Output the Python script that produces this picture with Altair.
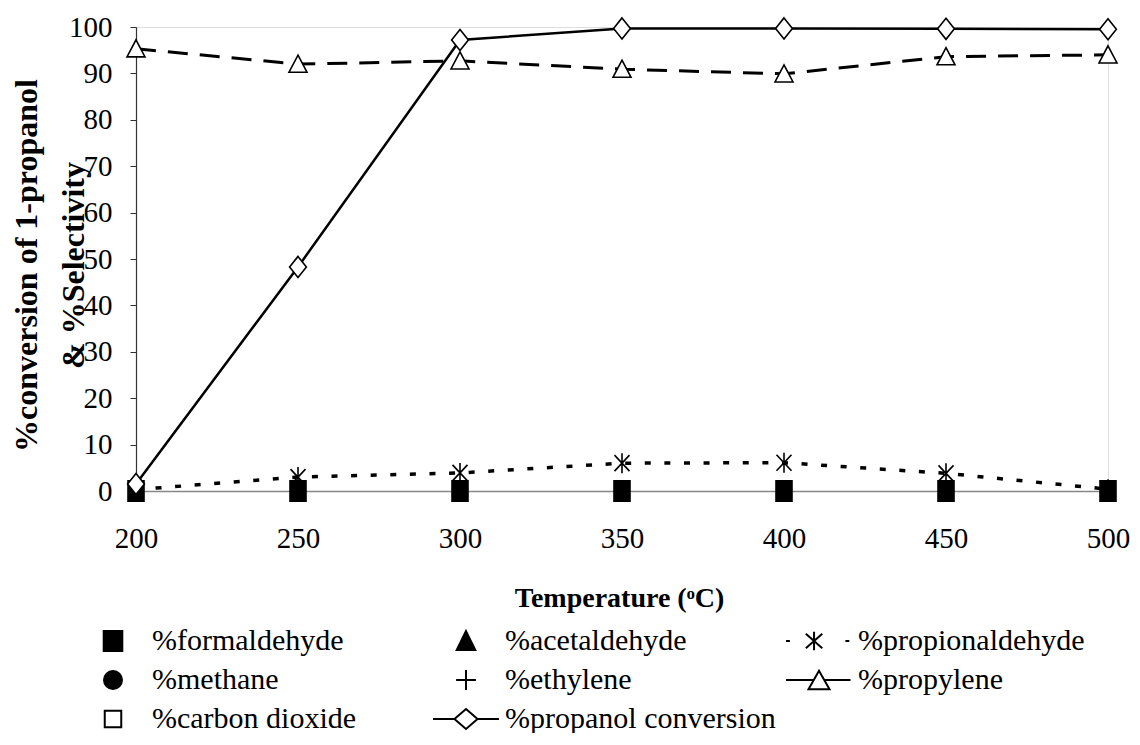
import altair as alt
import pandas as pd

# ---- data ----
temperature = [200, 250, 300, 350, 400, 450, 500]
formaldehyde = [0, 0, 0, 0, 0, 0, 0]
acetaldehyde = [0, 0, 0, 0, 0, 0, 0]
propionaldehyde = [0.3, 3.0, 3.9, 6.0, 6.1, 3.8, 0.4]
methane = [0, 0, 0, 0, 0, 0, 0]
ethylene = [0, 0, 0, 0, 0, 0, 0]
propylene = [95.3, 92.0, 92.7, 90.9, 89.9, 93.6, 94.0]
carbon_dioxide = [0, 0, 0, 0, 0, 0, 0]
propanol_conversion = [1.5, 48.3, 97.2, 99.7, 99.7, 99.6, 99.5]

series_names = [
    "%formaldehyde", "%acetaldehyde", "%propionaldehyde",
    "%methane", "%ethylene", "%propylene",
    "%carbon dioxide", "%propanol conversion",
]
series_values = [
    formaldehyde, acetaldehyde, propionaldehyde,
    methane, ethylene, propylene,
    carbon_dioxide, propanol_conversion,
]

rows = []
for name, vals in zip(series_names, series_values):
    for t, v in zip(temperature, vals):
        rows.append({"series": name, "T": t, "v": v})
df = pd.DataFrame(rows)

FONT = "Liberation Serif"

x_enc = alt.X(
    "T:Q",
    scale=alt.Scale(domain=[200, 500], nice=False),
    axis=alt.Axis(
        values=temperature, ticks=False, tickSize=0, grid=False, labelFlush=False,
        labelFont=FONT, labelFontSize=29, labelColor="black", labelPadding=33,
        domainColor="#888888", domainWidth=1.5,
        title="Temperature (ᵒC)", titleFont=FONT, titleFontSize=28,
        titleFontWeight="bold", titleColor="black",
        titleX=483, titleY=107, titleBaseline="middle", titleAlign="center",
    ),
)
y_enc = alt.Y(
    "v:Q",
    scale=alt.Scale(domain=[0, 100], nice=False),
    axis=alt.Axis(
        values=list(range(0, 101, 10)), tickSize=6, tickColor="#333333",
        grid=False, labelFont=FONT, labelFontSize=29, labelColor="black",
        labelPadding=18, domainColor="#333333", domainWidth=1.2,
        title=["%conversion of 1-propanol", "& %Selectivity"],
        titleFont=FONT, titleFontSize=32, titleFontWeight="bold",
        titleColor="black", titleLineHeight=47,
        titleX=-110, titleY=238, titleAngle=-90, titleBaseline="middle",
        titleAlign="center",
    ),
)

base = alt.Chart(df)

def sel(name):
    return base.transform_filter(alt.datum.series == name)

RECT = "M-0.8,-1H0.8V1H-0.8Z"
DIAMOND = "M0,-1L0.8,0L0,1L-0.8,0Z"
TRI = "M0,-1L1,0.9H-1Z"
STAR = "M0,-1V1M-0.75,-0.8L0.75,0.8M-0.75,0.8L0.75,-0.8"

# zero-valued species (they lie under the formaldehyde squares)
hidden = alt.layer(
    sel("%acetaldehyde").mark_point(shape="triangle-up", filled=True, color="black", size=120, opacity=1).encode(x=x_enc, y=y_enc),
    sel("%methane").mark_point(shape="circle", filled=True, color="black", size=120, opacity=1).encode(x=x_enc, y=y_enc),
    sel("%ethylene").mark_point(shape="cross", filled=False, color="black", size=120, opacity=1).encode(x=x_enc, y=y_enc),
    sel("%carbon dioxide").mark_point(shape="square", filled=False, color="black", size=120, opacity=1).encode(x=x_enc, y=y_enc),
)

formal = sel("%formaldehyde").mark_point(
    shape=RECT, filled=True, color="black", size=484, opacity=1
).encode(x=x_enc, y=y_enc)

propional_line = sel("%propionaldehyde").mark_line(
    color="black", strokeWidth=3.5, strokeDash=[6, 13.6]
).encode(x=x_enc, y=y_enc)
propional_pts = sel("%propionaldehyde").mark_point(
    shape=STAR, filled=False, color="black", size=400, strokeWidth=1.6, opacity=1
).encode(x=x_enc, y=y_enc)

propylene_line = sel("%propylene").mark_line(
    color="black", strokeWidth=3, strokeDash=[20, 12]
).encode(x=x_enc, y=y_enc)
propylene_pts = sel("%propylene").mark_point(
    shape=TRI, filled=True, fill="white", stroke="black", size=324, strokeWidth=1.6, opacity=1
).encode(x=x_enc, y=y_enc)

propanol_line = sel("%propanol conversion").mark_line(
    color="black", strokeWidth=2.5
).encode(x=x_enc, y=y_enc)
propanol_pts = sel("%propanol conversion").mark_point(
    shape=DIAMOND, filled=True, fill="white", stroke="black", size=441, strokeWidth=1.6, opacity=1
).encode(x=x_enc, y=y_enc)

# legend symbols: line + marker combos as SVG paths (1 unit = 15 px)
legend_paths = [
    "M0.58,-0.66H1.82V0.66H0.58Z",
    "M1.2,-0.66L1.82,0.6H0.58Z",
    "M-1,0H-0.74M2.96,0H3.22M0.87,-0.62V0.62M0.32,-0.48L1.42,0.48M0.32,0.48L1.42,-0.48",
    "M1.8,0A0.6,0.6,0,1,1,0.6,0A0.6,0.6,0,1,1,1.8,0Z",
    "M0.54,0H1.86M1.2,-0.66V0.66",
    "M-1,0H0.85M1.55,0H3.3M1.2,-0.62L1.9,0.62H0.5Z",
    "M0.65,-0.55H1.75V0.55H0.65Z",
    "M-1,0H0.43M1.97,0H3.4M1.2,-0.66L1.97,0L1.2,0.66L0.43,0Z",
]
legend_fill = ["black", "black", "white", "black", "white", "white", "white", "white"]
legend_stroke = ["black"] * 8

leg = alt.Legend(
    title=None, orient="none", legendX=-57, legendY=598, columns=3,
    direction="horizontal", gridAlign="all",
    symbolSize=900, symbolStrokeWidth=2, symbolStrokeColor="black",
    symbolOpacity=1, labelFont=FONT, labelFontSize=30, labelColor="black",
    labelOffset=41, rowPadding=8, columnPadding=6, labelLimit=400,
)

legend_layer = base.transform_filter(alt.datum.T == 200).mark_point(
    filled=True, opacity=0, strokeWidth=2
).encode(
    shape=alt.Shape("series:N", sort=series_names,
                    scale=alt.Scale(domain=series_names, range=legend_paths), legend=leg),
    fill=alt.Fill("series:N", sort=series_names,
                  scale=alt.Scale(domain=series_names, range=legend_fill), legend=leg),
    stroke=alt.Stroke("series:N", sort=series_names,
                      scale=alt.Scale(domain=series_names, range=legend_stroke), legend=leg),
)

chart = alt.layer(
    hidden, formal, propional_line, propional_pts,
    propylene_line, propylene_pts, propanol_line, propanol_pts,
    legend_layer,
).properties(
    width=972, height=464,
    autosize=alt.AutoSizeParams(type="none"),
    padding={"left": 128, "top": 19, "right": 24, "bottom": 242},
).configure_view(
    stroke="#999999", strokeWidth=1
).configure(background="white")

chart.save("out.html", embed_options={"renderer": "svg", "actions": False})
